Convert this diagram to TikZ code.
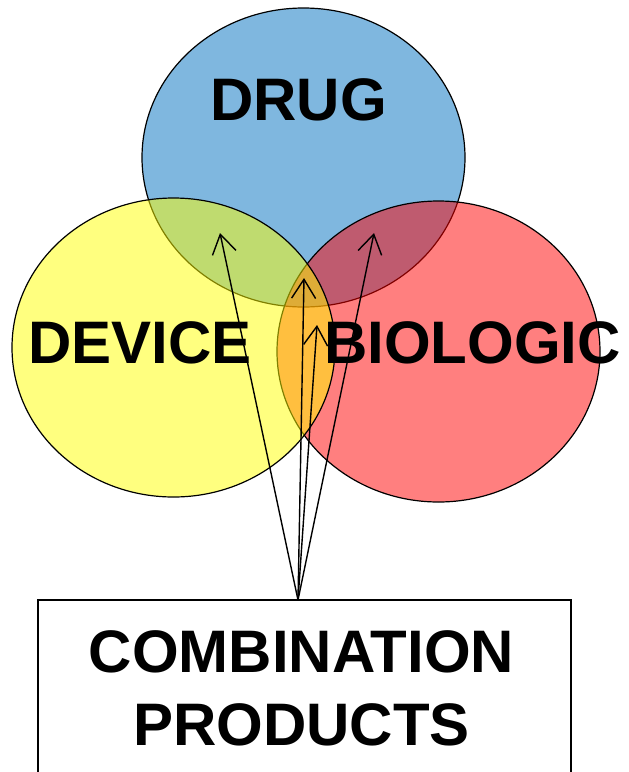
\documentclass[tikz,border=0pt]{standalone}
\usepackage{fontspec}
\setmainfont{Liberation Sans}
\usetikzlibrary{shapes.geometric,arrows.meta}
\definecolor{drugblue}{RGB}{0,112,192}
\definecolor{devyellow}{RGB}{255,255,0}
\definecolor{bioRed}{RGB}{255,0,0}
\tikzset{
  setcircle/.style={ellipse, draw=black, line width=1.2pt, fill opacity=0.5, inner sep=0pt, minimum width=323pt, minimum height=299pt},
  biglabel/.style={font=\fontsize{60}{73}\selectfont\bfseries, text=black, inner sep=0pt, anchor=base},
  pointer/.style={-{Straight Barb[length=19pt,width=24pt,line width=1.4pt]}, line width=1.4pt, black}
}
\begin{document}
\begin{tikzpicture}[x=1pt,y=-1pt]
\useasboundingbox (0,0) rectangle (629,772);
\clip (0,0) rectangle (629,772);
\node[setcircle, fill=drugblue] (drug) at (303.5,157.5) {};
\node[setcircle, fill=bioRed, minimum height=301pt] (biologic) at (438.5,351.5) {};
\node[setcircle, fill=devyellow] (device) at (173.5,347.5) {};
\node[biglabel] (drugtext) at (298.5,120) {DRUG};
\node[biglabel] (devicetext) at (140,363) {DEVICE};
\node[biglabel] (biologictext) at (472.5,363) {BIOLOGIC};
\node[draw=black, line width=1.5pt, fill=white, minimum width=533pt, minimum height=200pt, inner sep=0pt] (combo) at (304.5,700) {};
\node[biglabel] (combo1) at (301.5,672) {COMBINATION};
\node[biglabel] (combo2) at (301.5,745) {PRODUCTS};
\coordinate (src) at (298,600);
\coordinate (tipgreen) at (220,233);
\coordinate (tipcenter) at (304,278);
\coordinate (tiplens) at (317,325);
\coordinate (tipred) at (374,233);
\draw[pointer] (src) -- (tipgreen);
\draw[pointer] (src) -- (tipcenter);
\draw[pointer] (src) -- (tiplens);
\draw[pointer] (src) -- (tipred);
\end{tikzpicture}
\end{document}
